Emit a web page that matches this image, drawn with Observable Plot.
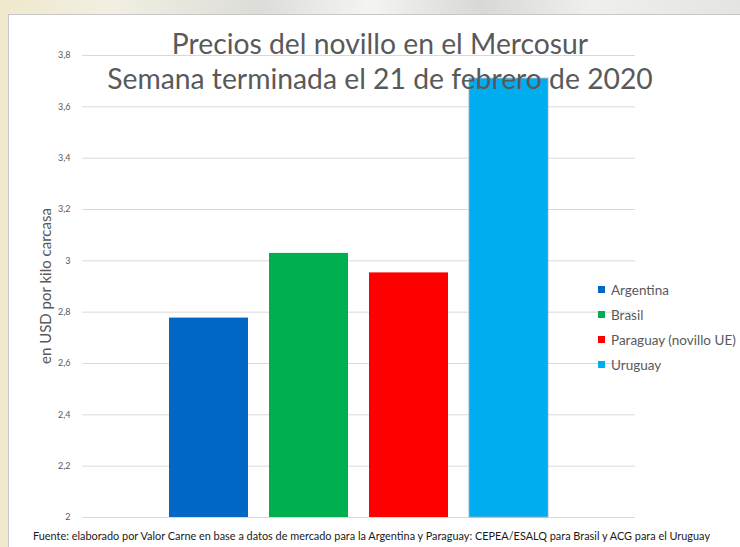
<!DOCTYPE html>
<html>
<head>
<meta charset="utf-8">
<script src="https://cdn.jsdelivr.net/npm/d3@7"></script>
<script src="https://cdn.jsdelivr.net/npm/@observablehq/plot@0.6"></script>
<style>
  html, body { margin: 0; padding: 0; }
  body {
    width: 740px; height: 547px; overflow: hidden; position: relative;
    background: linear-gradient(90deg, #efe8cc 0%, #f2efe2 15%, #dcdcd8 35%, #f4f4f2 50%, #d8d8d4 65%, #efefec 80%, #e4e4e0 100%);
    font-family: Lato, "Open Sans", sans-serif;
  }
  #frame {
    position: absolute; left: 8px; top: 14px; width: 760px; height: 560px;
    background: #fff; border-left: 1px solid #c8c8c8; border-top: 1px solid #c8c8c8;
  }
  #chart { position: absolute; left: 0; top: 0; }
  .title {
    position: absolute; left: 0; width: 760px; text-align: center;
    color: #595959; font-size: 28.3px; line-height: 1; white-space: nowrap;
  }
  #legend { position: absolute; left: 598px; top: 277px; }
  .item { height: 25px; display: flex; align-items: center; font-size: 13.5px; color: #595959; white-space: nowrap; }
  .sw { width: 7px; height: 7px; margin-right: 6px; }
  #caption {
    position: absolute; left: 33px; top: 529px; font-size: 10.9px; color: #1a1a1a; white-space: nowrap;
  }
  #ylabel {
    position: absolute; left: 45px; top: 286px; transform: translate(-50%, -50%) rotate(-90deg);
    font-size: 15px; color: #595959; white-space: nowrap;
  }
</style>
</head>
<body>
<div id="frame"></div>
<div id="chart"></div>
<div class="title" id="t1" style="top:29px;"></div>
<div class="title" id="t2" style="top:64px;"></div>
<div id="ylabel"></div>
<div id="legend"></div>
<div id="caption"></div>
<script>
const countries = ["Argentina", "Brasil", "Paraguay (novillo UE)", "Uruguay"];
const prices = [2.777, 3.029, 2.953, 3.71];
const colors = ["#0068c4", "#00b050", "#ff0000", "#00adef"];
const yTicks = [2, 2.2, 2.4, 2.6, 2.8, 3, 3.2, 3.4, 3.6, 3.8];
const titleLines = ["Precios del novillo en el Mercosur", "Semana terminada el 21 de febrero de 2020"];
const yLabel = "en USD por kilo carcasa";
const caption = "Fuente: elaborado por Valor Carne en base a datos de mercado para la Argentina y Paraguay: CEPEA/ESALQ para Brasil y ACG para el Uruguay";

const data = countries.map((c, i) => ({country: c, value: prices[i]}));

const chart = Plot.plot({
  width: 740,
  height: 547,
  marginTop: 55,
  marginBottom: 30,
  marginLeft: 82,
  marginRight: 105,
  style: {background: "transparent", fontFamily: "Lato, sans-serif"},
  x: {domain: countries, paddingInner: 0.21, paddingOuter: 0.87, axis: null},
  y: {domain: [2, 3.8], label: null},
  color: {domain: countries, range: colors},
  marks: [
    Plot.ruleY(yTicks, {stroke: "#d9d9d9", strokeWidth: 1}),
    Plot.axisY({ticks: yTicks, tickSize: 0, tickPadding: 12, label: null,
      tickFormat: d => String(+d.toFixed(1)).replace(".", ","),
      fontSize: 9, fill: "#595959"}),
    Plot.barY(data, {x: "country", y1: () => 2, y2: "value", fill: "country"}),
    Plot.barY(data.filter(d => d.country === "Uruguay"), {x: "country", y1: () => 2, y2: "value", fill: "none", stroke: "#9ab", strokeWidth: 0.8})
  ]
});
document.getElementById("chart").appendChild(chart);

document.getElementById("t1").textContent = titleLines[0];
document.getElementById("t2").textContent = titleLines[1];
document.getElementById("ylabel").textContent = yLabel;
document.getElementById("caption").textContent = caption;
const legend = document.getElementById("legend");
countries.forEach((c, i) => {
  const it = document.createElement("div");
  it.className = "item";
  it.innerHTML = `<span class="sw" style="background:${colors[i]}"></span><span>${c}</span>`;
  legend.appendChild(it);
});
</script>
</body>
</html>
